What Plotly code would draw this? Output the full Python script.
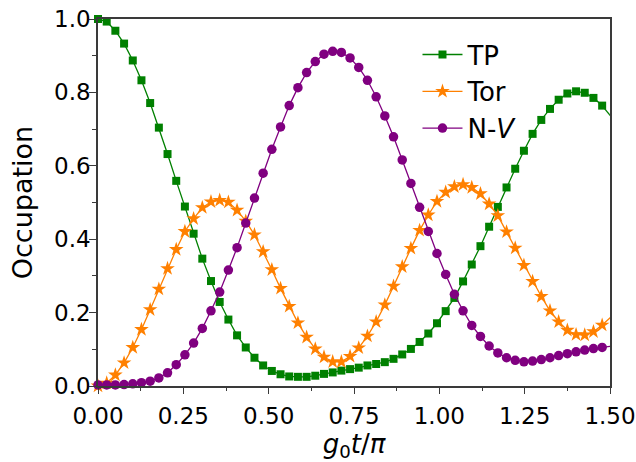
import plotly.graph_objects as go

# g0*t/pi sample times
t = [0.0, 0.0255, 0.0509, 0.0764, 0.1019, 0.1273, 0.1528, 0.1783, 0.2037, 0.2292,
     0.2546, 0.2801, 0.3056, 0.3310, 0.3565, 0.3820, 0.4074, 0.4329, 0.4584, 0.4838,
     0.5093, 0.5348, 0.5602, 0.5857, 0.6112, 0.6366, 0.6621, 0.6876, 0.7130, 0.7385,
     0.7639, 0.7894, 0.8149, 0.8403, 0.8658, 0.8913, 0.9167, 0.9422, 0.9677, 0.9931,
     1.0186, 1.0441, 1.0695, 1.0950, 1.1205, 1.1459, 1.1714, 1.1969, 1.2223, 1.2478,
     1.2732, 1.2987, 1.3242, 1.3496, 1.3751, 1.4006, 1.4260, 1.4515, 1.4770, 1.5024]

tp = [1.000, 0.993, 0.968, 0.933, 0.887, 0.833, 0.771, 0.704, 0.632, 0.559,
      0.489, 0.415, 0.347, 0.286, 0.229, 0.181, 0.138, 0.105, 0.077, 0.056,
      0.041, 0.032, 0.026, 0.025, 0.025, 0.028, 0.033, 0.037, 0.042, 0.046,
      0.050, 0.056, 0.060, 0.065, 0.074, 0.086, 0.101, 0.120, 0.143, 0.171,
      0.204, 0.240, 0.285, 0.331, 0.381, 0.434, 0.488, 0.541, 0.592, 0.641,
      0.687, 0.725, 0.755, 0.780, 0.797, 0.803, 0.799, 0.785, 0.764, 0.735]

tor = [0.000, 0.008, 0.030, 0.063, 0.105, 0.154, 0.208, 0.264, 0.320, 0.372,
       0.421, 0.456, 0.486, 0.502, 0.506, 0.501, 0.479, 0.449, 0.412, 0.366,
       0.317, 0.266, 0.217, 0.172, 0.133, 0.101, 0.079, 0.066, 0.066, 0.081,
       0.104, 0.136, 0.175, 0.221, 0.272, 0.325, 0.375, 0.424, 0.466, 0.503,
       0.528, 0.543, 0.549, 0.541, 0.524, 0.496, 0.464, 0.420, 0.376, 0.329,
       0.285, 0.244, 0.205, 0.175, 0.152, 0.140, 0.139, 0.148, 0.166, 0.188]

nv = [0.003, 0.003, 0.003, 0.004, 0.006, 0.009, 0.013, 0.022, 0.036, 0.058,
      0.085, 0.117, 0.157, 0.205, 0.256, 0.316, 0.377, 0.444, 0.512, 0.580,
      0.645, 0.706, 0.764, 0.813, 0.854, 0.884, 0.904, 0.912, 0.909, 0.894,
      0.868, 0.833, 0.788, 0.736, 0.679, 0.616, 0.552, 0.487, 0.421, 0.361,
      0.304, 0.250, 0.205, 0.165, 0.135, 0.109, 0.090, 0.077, 0.070, 0.066,
      0.068, 0.072, 0.077, 0.083, 0.088, 0.093, 0.098, 0.102, 0.105, 0.108]

x_ticks = [0.0, 0.25, 0.5, 0.75, 1.0, 1.25, 1.5]
y_ticks = [0.0, 0.2, 0.4, 0.6, 0.8, 1.0]

series = [
    ("TP", tp, "#008000", "square", 8),
    ("Tor", tor, "#FF8000", "star", 11),
    ("N-<i>V</i>", nv, "#800080", "circle", 9.5),
]

FONT = "DejaVu Sans, Arial, sans-serif"
fig = go.Figure()
n_marked = len(t) - 1
for name, ys, col, sym, ms in series:
    fig.add_trace(go.Scatter(
        x=t[:n_marked], y=ys[:n_marked], mode="lines+markers", name=name,
        line=dict(color=col, width=1.3),
        marker=dict(symbol=sym, size=ms, color=col, line=dict(width=0)),
        cliponaxis=False,
    ))
    fig.add_trace(go.Scatter(
        x=t[n_marked - 1:], y=ys[n_marked - 1:], mode="lines",
        line=dict(color=col, width=1.3), showlegend=False, hoverinfo="skip",
    ))

axis_common = dict(
    showline=True, linecolor="#3a3a3a", linewidth=1.5, mirror=True,
    ticks="outside", tickcolor="#3a3a3a", tickwidth=1.3,
    showgrid=False, zeroline=False, automargin=False,
    ticklabeloverflow="allow",
    tickfont=dict(family=FONT, size=23, color="black"),
)

fig.update_layout(
    width=636, height=462,
    margin=dict(l=98, r=26, t=19, b=76),
    paper_bgcolor="white", plot_bgcolor="white",
    font=dict(family=FONT, color="black"),
    xaxis=dict(range=[0, 1.5], tickvals=x_ticks,
               ticktext=[f"{v:.2f}" for v in x_ticks], ticklen=6,
               ticklabelstandoff=3,
               minor=dict(dtick=0.125, tick0=0, ticks="outside", ticklen=3,
                          tickcolor="#3a3a3a", tickwidth=1.3),
               title=dict(text="<i>g</i><sub>0</sub><i>t</i>/<i>π</i>",
                          font=dict(family=FONT, size=26), standoff=2),
               **axis_common),
    yaxis=dict(range=[0, 1.0], tickvals=y_ticks,
               ticktext=[f"{v:.1f}" for v in y_ticks], ticklen=7,
               ticklabelstandoff=-6,
               minor=dict(dtick=0.1, tick0=0, ticks="outside", ticklen=4,
                          tickcolor="#3a3a3a", tickwidth=1.3),
               title=dict(text="Occupation", font=dict(family=FONT, size=27),
                          standoff=14),
               **axis_common),
    legend=dict(x=0.624, y=0.967, xanchor="left", yanchor="top",
                bgcolor="rgba(0,0,0,0)", borderwidth=0,
                font=dict(family=FONT, size=26), itemwidth=40,
                tracegroupgap=0),
    showlegend=True,
)

fig.write_html("out.html", config={"displayModeBar": False},
               post_script="document.body.style.margin='0px';")
